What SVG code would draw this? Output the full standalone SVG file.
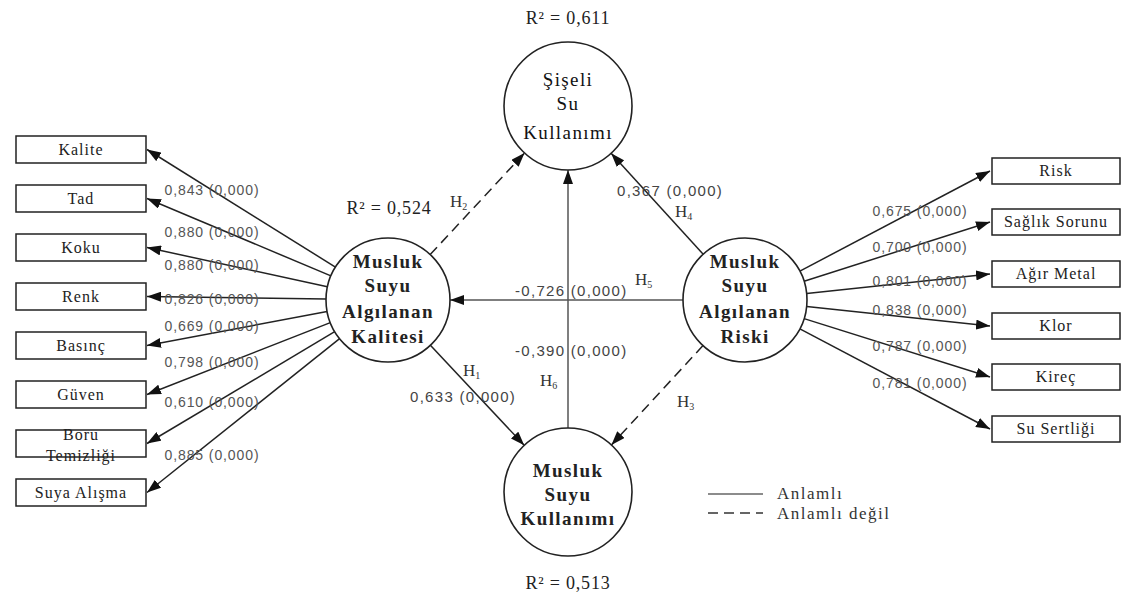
<svg xmlns="http://www.w3.org/2000/svg" width="1123" height="601" viewBox="0 0 1123 601">
<style>
.box{fill:#fff;stroke:#222;stroke-width:1.5}
.btxt{font-family:"Liberation Serif",serif;font-size:16px;fill:#222;text-anchor:middle;letter-spacing:1px}
.circ{fill:#fff;stroke:#222;stroke-width:1.6}
.ntxt{font-family:"Liberation Serif",serif;font-size:19px;font-weight:bold;fill:#222;text-anchor:middle;letter-spacing:1.4px}
.ntop{font-weight:normal;fill:#111}
.ln{stroke:#222;stroke-width:1.5;fill:none}
.dash{stroke-dasharray:10 6}
.grey{stroke:#555}
.lbl{font-family:"Liberation Sans",sans-serif;font-size:14px;fill:#555;text-anchor:middle;letter-spacing:0.9px}
.clbl{font-family:"Liberation Sans",sans-serif;font-size:15px;fill:#444;letter-spacing:1.3px}
.h{font-family:"Liberation Serif",serif;font-size:17px;fill:#333}
.r2{font-family:"Liberation Serif",serif;font-size:18px;fill:#222;text-anchor:middle;letter-spacing:0.8px}
.leg{font-family:"Liberation Serif",serif;font-size:17px;fill:#333;letter-spacing:1.5px}
</style>
<defs>
<marker id="ah" markerWidth="14" markerHeight="10" refX="14" refY="5" orient="auto" markerUnits="userSpaceOnUse">
<path d="M0,0 L14,5 L0,10 Z" fill="#111"/>
</marker>
</defs>

<g id="connectors">
<line class="ln" x1="335.4" y1="267.1" x2="147" y2="149.5" marker-end="url(#ah)"/>
<line class="ln" x1="330.9" y1="275.9" x2="147" y2="198.5" marker-end="url(#ah)"/>
<line class="ln" x1="327.4" y1="286.8" x2="147" y2="247.5" marker-end="url(#ah)"/>
<line class="ln" x1="326" y1="299.1" x2="147" y2="296.5" marker-end="url(#ah)"/>
<line class="ln" x1="327.1" y1="311.5" x2="147" y2="345.5" marker-end="url(#ah)"/>
<line class="ln" x1="330.3" y1="322.6" x2="147" y2="394.5" marker-end="url(#ah)"/>
<line class="ln" x1="334.7" y1="331.7" x2="147" y2="443.5" marker-end="url(#ah)"/>
<line class="ln" x1="339.6" y1="338.7" x2="147" y2="492.5" marker-end="url(#ah)"/>
<line class="ln" x1="799.9" y1="271.1" x2="990" y2="171" marker-end="url(#ah)"/>
<line class="ln" x1="804.1" y1="281.2" x2="990" y2="222" marker-end="url(#ah)"/>
<line class="ln" x1="806.7" y1="293.5" x2="990" y2="274" marker-end="url(#ah)"/>
<line class="ln" x1="806.7" y1="306.5" x2="990" y2="326" marker-end="url(#ah)"/>
<line class="ln" x1="804.1" y1="318.6" x2="990" y2="377" marker-end="url(#ah)"/>
<line class="ln" x1="799.9" y1="328.9" x2="990" y2="429" marker-end="url(#ah)"/>
<line class="ln dash" x1="430.2" y1="254.6" x2="524.5" y2="153.1" marker-end="url(#ah)"/>
<line class="ln" x1="703.2" y1="254.2" x2="611.1" y2="153.3" marker-end="url(#ah)"/>
<line class="ln grey" x1="568" y1="428" x2="568" y2="170" marker-end="url(#ah)"/>
<line class="ln grey" x1="683" y1="300" x2="450" y2="300" marker-end="url(#ah)"/>
<line class="ln" x1="430.4" y1="345.2" x2="524.2" y2="445.3" marker-end="url(#ah)"/>
<line class="ln dash" x1="703" y1="345.6" x2="611.4" y2="444.9" marker-end="url(#ah)"/>
</g>

<g id="left-boxes">
<g id="kalite"><rect class="box" x="16" y="136" width="130" height="27"/><text class="btxt" x="81" y="155">Kalite</text></g>
<g id="tad"><rect class="box" x="16" y="185" width="130" height="27"/><text class="btxt" x="81" y="204">Tad</text></g>
<g id="koku"><rect class="box" x="16" y="234" width="130" height="27"/><text class="btxt" x="81" y="253">Koku</text></g>
<g id="renk"><rect class="box" x="16" y="283" width="130" height="27"/><text class="btxt" x="81" y="302">Renk</text></g>
<g id="basinc"><rect class="box" x="16" y="332" width="130" height="27"/><text class="btxt" x="81" y="351">Basınç</text></g>
<g id="guven"><rect class="box" x="16" y="381" width="130" height="27"/><text class="btxt" x="81" y="400">Güven</text></g>
<g id="boru"><rect class="box" x="16" y="430" width="130" height="27"/><text class="btxt" x="81" y="440">Boru</text><text class="btxt" x="81" y="461">Temizliği</text></g>
<g id="suya"><rect class="box" x="16" y="479" width="130" height="27"/><text class="btxt" x="81" y="498">Suya Alışma</text></g>
</g>

<g id="right-boxes">
<g id="risk"><rect class="box" x="992" y="158" width="128" height="26"/><text class="btxt" x="1056" y="176">Risk</text></g>
<g id="saglik"><rect class="box" x="992" y="209" width="128" height="26"/><text class="btxt" x="1056" y="227">Sağlık Sorunu</text></g>
<g id="agir"><rect class="box" x="992" y="261" width="128" height="26"/><text class="btxt" x="1056" y="279">Ağır Metal</text></g>
<g id="klor"><rect class="box" x="992" y="313" width="128" height="26"/><text class="btxt" x="1056" y="331">Klor</text></g>
<g id="kirec"><rect class="box" x="992" y="364" width="128" height="26"/><text class="btxt" x="1056" y="382">Kireç</text></g>
<g id="sertlik"><rect class="box" x="992" y="416" width="128" height="26"/><text class="btxt" x="1056" y="434">Su Sertliği</text></g>
</g>

<g id="kalite-node">
<circle class="circ" cx="388" cy="300" r="62"/>
<text class="ntxt" x="388" y="268">Musluk</text>
<text class="ntxt" x="388" y="292">Suyu</text>
<text class="ntxt" x="388" y="318">Algılanan</text>
<text class="ntxt" x="388" y="343">Kalitesi</text>
</g>
<g id="risk-node">
<circle class="circ" cx="745" cy="300" r="62"/>
<text class="ntxt" x="745" y="268">Musluk</text>
<text class="ntxt" x="745" y="292">Suyu</text>
<text class="ntxt" x="745" y="318">Algılanan</text>
<text class="ntxt" x="745" y="343">Riski</text>
</g>
<g id="sise-node">
<circle class="circ" cx="568" cy="106" r="64"/>
<text class="ntxt ntop" x="568" y="86">Şişeli</text>
<text class="ntxt ntop" x="568" y="110">Su</text>
<text class="ntxt ntop" x="568" y="139">Kullanımı</text>
</g>
<g id="musluk-node">
<circle class="circ" cx="568" cy="492" r="64"/>
<text class="ntxt" x="568" y="477">Musluk</text>
<text class="ntxt" x="568" y="501">Suyu</text>
<text class="ntxt" x="568" y="525">Kullanımı</text>
</g>

<g id="labels">
<text class="r2" x="568" y="24">R² = 0,611</text>
<text class="r2" x="389" y="214">R² = 0,524</text>
<text class="r2" x="568" y="589">R² = 0,513</text>

<text class="lbl" x="212" y="195">0,843 (0,000)</text>
<text class="lbl" x="212" y="237">0,880 (0,000)</text>
<text class="lbl" x="212" y="270">0,880 (0,000)</text>
<text class="lbl" x="212" y="304">0,826 (0,000)</text>
<text class="lbl" x="212" y="331">0,669 (0,000)</text>
<text class="lbl" x="212" y="367">0,798 (0,000)</text>
<text class="lbl" x="212" y="407">0,610 (0,000)</text>
<text class="lbl" x="212" y="460">0,885 (0,000)</text>

<text class="lbl" x="920" y="216">0,675 (0,000)</text>
<text class="lbl" x="920" y="252">0,700 (0,000)</text>
<text class="lbl" x="920" y="286">0,801 (0,000)</text>
<text class="lbl" x="920" y="315">0,838 (0,000)</text>
<text class="lbl" x="920" y="351">0,787 (0,000)</text>
<text class="lbl" x="920" y="388">0,781 (0,000)</text>

<text class="clbl" x="617" y="196">0,367 (0,000)</text>
<text class="clbl" x="515" y="296">-0,726 (0,000)</text>
<text class="clbl" x="515" y="356">-0,390 (0,000)</text>
<text class="clbl" x="410" y="402">0,633 (0,000)</text>

<text class="h" x="450" y="207">H<tspan font-size="10" dy="3">2</tspan></text>
<text class="h" x="675" y="217">H<tspan font-size="10" dy="3">4</tspan></text>
<text class="h" x="635" y="285">H<tspan font-size="10" dy="3">5</tspan></text>
<text class="h" x="540" y="386">H<tspan font-size="10" dy="3">6</tspan></text>
<text class="h" x="463" y="376">H<tspan font-size="10" dy="3">1</tspan></text>
<text class="h" x="677" y="407">H<tspan font-size="10" dy="3">3</tspan></text>
</g>

<g id="legend">
<line x1="708" y1="494" x2="763" y2="494" stroke="#666" stroke-width="1.5"/>
<line x1="708" y1="513" x2="763" y2="513" stroke="#333" stroke-width="1.5" stroke-dasharray="10 6"/>
<text class="leg" x="777" y="499">Anlamlı</text>
<text class="leg" x="777" y="519">Anlamlı değil</text>
</g>
</svg>
